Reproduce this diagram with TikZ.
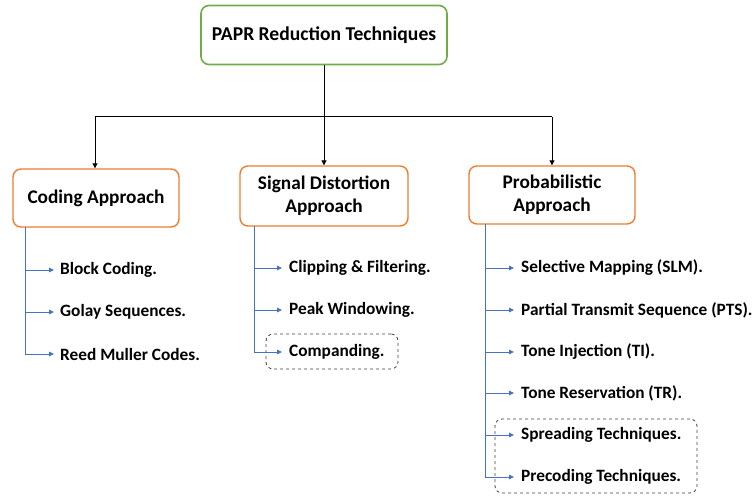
\documentclass[tikz,border=0pt]{standalone}
\usepackage{fontspec}
\setmainfont{Carlito}
\usetikzlibrary{arrows.meta}
\definecolor{gborder}{HTML}{70AD47}
\definecolor{oborder}{HTML}{ED7D31}
\definecolor{bline}{HTML}{4472C4}
\begin{document}
\begin{tikzpicture}[x=1pt,y=-1pt,
  topbox/.style={draw=gborder,line width=1.6pt,rounded corners=8pt,minimum width=246pt,minimum height=59pt,font=\bfseries\fontsize{19.6}{22}\selectfont,align=center},
  catbox/.style={draw=oborder,line width=1.4pt,rounded corners=8pt,minimum width=166pt,minimum height=59pt,font=\bfseries\fontsize{19.3}{23}\selectfont,align=center},
  item/.style={anchor=west,font=\bfseries\fontsize{17.3}{19}\selectfont,inner sep=0pt},
  bl/.style={draw=bline,line width=0.9pt},
  ba/.style={bl,-{Triangle[length=5pt,width=4.5pt]}},
  ka/.style={draw=black,line width=1pt,-{Triangle[length=5pt,width=5pt]}},
  dbox/.style={draw=black!75,dashed,line width=0.8pt,rounded corners=7pt}]
\useasboundingbox (0,0) rectangle (753,497);
\node[topbox] (top) at (324,35) {PAPR Reduction Techniques};
\node[catbox,minimum height=58pt] (c1) at (96,198) {Coding Approach};
\node[catbox,minimum width=168pt,minimum height=60pt] (c2) at (324,196) {Signal Distortion\\Approach};
\node[catbox,minimum height=58pt] (c3) at (552,195) {Probabilistic\\Approach};
\coordinate (j) at (324,117);
\coordinate (jl) at (95,117);
\coordinate (jr) at (552,117);
\draw[line width=1pt] (top.south) -- (j);
\draw[line width=1pt] (jl) -- (jr);
\draw[ka] (jl) -- (c1.north -| jl);
\draw[ka] (j) -- (c2.north);
\draw[ka] (jr) -- (c3.north);
% coding items
\node[item] (a1) at (60,270) {Block Coding.};
\node[item] (a2) at (60,312) {Golay Sequences.};
\node[item] (a3) at (60,354) {Reed Muller Codes.};
\coordinate (v1) at (25,227);
\draw[bl] (v1) -- (25,354);
\foreach \n in {a1,a2,a3} \draw[ba] (25,0 |- \n.west) -- ([xshift=-6pt]\n.west);
% signal items
\node[dbox,minimum width=132pt,minimum height=35pt] (cbox) at (332,351.5) {};
\node[item] (b1) at (289,268) {Clipping \& Filtering.};
\node[item] (b2) at (289,310) {Peak Windowing.};
\node[item] (b3) at (289,352) {Companding.};
\draw[bl] (254,226) -- (254,352);
\foreach \n in {b1,b2,b3} \draw[ba] (254,0 |- \n.west) -- ([xshift=-7pt]\n.west);
% probabilistic items
\node[dbox,minimum width=202pt,minimum height=74pt] (pbox) at (596,456) {};
\node[item] (p1) at (521,268) {Selective Mapping (SLM).};
\node[item] (p2) at (521,310) {Partial Transmit Sequence (PTS).};
\node[item] (p3) at (521,352) {Tone Injection (TI).};
\node[item] (p4) at (521,393) {Tone Reservation (TR).};
\node[item] (p5) at (521,435) {Spreading Techniques.};
\node[item] (p6) at (521,477) {Precoding Techniques.};
\draw[bl] (485,224) -- (485,477);
\foreach \n in {p1,p2,p3,p4,p5,p6} \draw[ba] (485,0 |- \n.west) -- ([xshift=-7pt]\n.west);
\end{tikzpicture}
\end{document}
